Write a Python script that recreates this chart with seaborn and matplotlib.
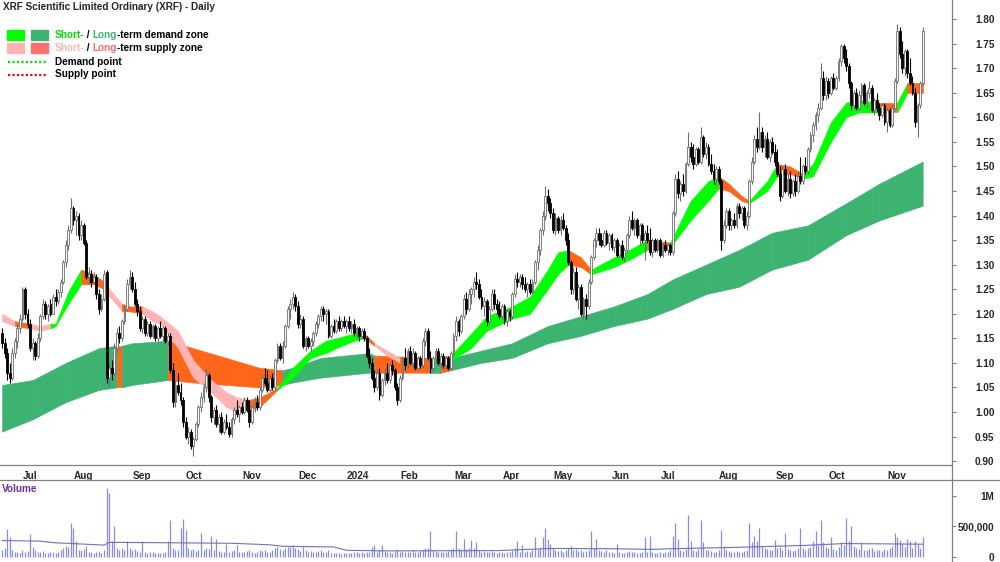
import matplotlib
matplotlib.use("Agg")
import matplotlib.pyplot as plt
import matplotlib.transforms as mtransforms
from matplotlib.lines import Line2D
from matplotlib.patches import Rectangle
import numpy as np
import pandas as pd
import seaborn as sns

# ------------------------------------------------------------------
# Daily candles, cents (open, high, low, close, volume in thousands)
# ------------------------------------------------------------------
jun_2023 = [(116, 117, 113, 114, 120), (114, 115, 111, 112, 150), (112, 113, 106.5, 108, 460),
            (108, 110, 106, 107, 320), (107, 113, 106.5, 112, 110), (112, 115, 111, 114.5, 90),
            (114.5, 118, 113, 117, 80)]
jul_2023 = [(117, 120, 116, 119, 70), (119, 125.5, 118.5, 125, 110), (125, 125.5, 119, 120, 90),
            (120, 121, 117, 118, 100), (118, 119, 112.5, 113, 370), (113, 115, 110.5, 114, 160),
            (114, 114.5, 110.5, 111.5, 120), (111.5, 116, 111, 115, 90), (115, 120, 114.5, 119.5, 80),
            (119.5, 123, 119, 122, 100), (122, 122.5, 119, 120, 70), (120, 122, 118.5, 121.5, 60),
            (122, 123, 119.5, 120, 80), (120, 124, 120, 123.5, 90), (123.5, 125, 121.5, 122.5, 70),
            (122.5, 125, 122, 124.5, 80), (124.5, 127, 123.5, 126.5, 120), (126.5, 131, 126, 130.5, 150),
            (130.5, 135, 129.5, 134, 180), (134, 138, 133, 137, 160)]
aug_2023 = [(137, 143.5, 136.5, 141.5, 560), (141.5, 142, 138, 139, 480), (139, 141, 136, 140, 260),
            (140, 140.5, 135, 136, 120), (136, 139, 135, 138, 110), (138, 138.5, 134, 134.5, 130),
            (134.5, 135, 127, 127.5, 180), (127.5, 129.5, 126, 128, 90), (128, 129, 125.5, 126.5, 80),
            (126.5, 128.5, 126, 127.5, 70), (127.5, 128, 123, 124, 90), (124, 125, 120, 121, 100),
            (121, 124, 120.5, 123, 60), (123, 129, 122.5, 128, 120), (128.5, 129, 106, 107, 1127),
            (107, 110, 105, 109, 1046), (109, 110.5, 106.5, 108, 260), (108, 114, 107.5, 113, 500),
            (113, 117, 112, 116, 150), (116, 117.5, 114, 115, 120), (115, 119, 114.5, 118.5, 140),
            (118.5, 122, 118, 121, 110), (121, 127, 120.5, 126, 270)]
sep_2023 = [(126, 129, 125, 127.5, 150), (127.5, 128.5, 124.5, 125, 110), (125, 126.5, 121.5, 122, 130),
            (122, 123, 119.5, 120.5, 100), (120.5, 121.5, 116.5, 117, 90), (117, 119.5, 116, 119, 270),
            (119, 119.5, 115.5, 116, 80), (116, 118.5, 115.5, 118, 70), (118, 118.5, 115, 115.5, 90),
            (115.5, 118, 115, 117.5, 80), (117.5, 118, 114.5, 115, 70), (115, 117.5, 114.5, 117, 60),
            (117, 118.5, 115, 115.5, 70), (115.5, 117.5, 114.5, 117, 60), (117, 117.5, 114, 114.5, 80),
            (114.5, 116, 113.5, 115.5, 270), (115.5, 116, 108, 108.5, 610), (108.5, 110, 101, 102, 150),
            (102, 106.5, 101, 105.5, 120), (105.5, 108, 103.5, 104, 110), (104, 106, 101.5, 102.5, 480)]
oct_2023 = [(102.5, 103, 97, 98, 630), (98, 99, 94.5, 95, 450), (95, 97, 93.5, 96, 150),
            (96, 96.5, 92.5, 93, 120), (93, 95, 91, 94.5, 130), (94.5, 98, 94, 97.5, 100),
            (97.5, 101.5, 97, 101, 110), (101, 104, 100, 103, 390), (103, 106, 102, 105, 120),
            (105, 109, 104, 107.5, 150), (107.5, 108, 102, 103, 130), (103, 103.5, 98, 99, 350),
            (99, 101, 97.5, 100.5, 110), (100.5, 101.5, 97, 97.5, 300), (97.5, 99.5, 96, 99, 100),
            (99, 100, 95.5, 96, 90), (96, 98.5, 95.5, 98, 80), (98, 99.5, 96.5, 97, 210),
            (97, 98, 95, 95.5, 90), (95.5, 99, 95, 98.5, 100), (98.5, 101, 97.5, 100.5, 110),
            (100.5, 102.5, 99, 99.5, 200)]
nov_2023 = [(99.5, 101.5, 98, 101, 90), (101, 102, 99.5, 100, 80), (100, 103, 99.5, 102.5, 90),
            (102.5, 103, 100, 100.5, 100), (100.5, 102.5, 97, 98, 120), (98, 101.5, 97.5, 101, 90),
            (101, 103, 100, 102, 70), (102, 103.5, 100.5, 101, 80), (101, 105, 100.5, 104.5, 110),
            (104.5, 107.5, 104, 107, 100), (107, 109, 105.5, 106, 120), (106, 108.5, 104, 104.5, 90),
            (104.5, 107.5, 104, 107, 80), (107, 108, 104.5, 105, 110), (105, 111, 104.5, 110.5, 140),
            (110.5, 114, 110, 113.5, 160), (113.5, 114, 110.5, 111, 130), (111, 114.5, 110, 113.5, 120),
            (113.5, 118, 113, 117.5, 140), (117.5, 121.5, 117, 121, 170), (121, 123, 119, 122, 160),
            (122, 124.5, 121, 123.5, 200)]
dec_2023 = [(123.5, 124, 120.5, 121.5, 150), (121.5, 122.5, 117, 118, 130), (118, 120, 117, 119, 100),
            (119, 119.5, 113, 113.5, 160), (113.5, 115.5, 112.5, 115, 110), (115, 115.5, 113, 113.5, 90),
            (113.5, 115, 112.5, 114.5, 100), (114.5, 116.5, 113.5, 116, 80), (116, 118.5, 115.5, 118, 90),
            (118, 120, 117, 119.5, 100), (119.5, 121.5, 118.5, 121, 110), (121, 121.5, 118.5, 120, 90),
            (120, 121, 118, 120.5, 80), (120.5, 121, 115, 115.5, 120), (115.5, 118, 115, 117.5, 70),
            (117.5, 119, 116, 116.5, 60), (116.5, 119, 116, 118.5, 70), (118.5, 119.5, 116.5, 117, 60),
            (117, 119, 116.5, 118.5, 50)]
jan_2024 = [(118.5, 119.5, 117, 117.5, 60), (117.5, 119, 116, 118.5, 70), (118.5, 119.5, 116.5, 117, 60),
            (117, 118.5, 116, 118, 70), (118, 119, 115.5, 116, 80), (116, 117.5, 115, 117, 90),
            (117, 117.5, 114.5, 115.5, 60), (115.5, 117, 115, 116.5, 80), (116.5, 117, 114.5, 115, 70),
            (115, 115.5, 111, 111.5, 90), (111.5, 113, 109, 110, 80), (110, 111, 106.5, 107, 160),
            (107, 108.5, 104, 105, 200), (105, 108.5, 104.5, 108, 90), (108, 109, 102.5, 103.5, 120),
            (103.5, 107, 103, 106.5, 200), (106.5, 109, 105.5, 108, 100), (108, 110, 106, 106.5, 80),
            (106.5, 110, 106, 109.5, 90), (109.5, 110.5, 107.5, 108.5, 70), (108.5, 109, 104.5, 105, 100)]
feb_2024 = [(105, 106, 101.5, 102.5, 110), (102.5, 107.5, 102, 107, 90), (107, 111.5, 106.5, 111, 100),
            (111, 113, 108.5, 109.5, 80), (109.5, 113, 109, 112.5, 90), (112.5, 113.5, 109.5, 110, 80),
            (110, 113, 109, 112, 110), (112, 112.5, 108.5, 109, 90), (109, 111.5, 108.5, 111, 80),
            (111, 111.5, 109, 109.5, 100), (109.5, 115, 109, 114.5, 120), (114.5, 117, 113.5, 116.5, 140),
            (116.5, 117, 110.5, 111, 150), (111, 112.5, 108, 109, 430), (109, 111.5, 108.5, 111, 120),
            (111, 113, 110, 112.5, 100), (112.5, 113, 109.5, 110, 80), (110, 112, 109, 111.5, 90),
            (111.5, 112, 109, 109.5, 80), (109.5, 111.5, 108.5, 111, 90), (111, 111.5, 108.5, 109, 100)]
mar_2024 = [(109, 112.5, 108.5, 112, 110), (112, 116, 111.5, 115.5, 140), (115.5, 119.5, 114.5, 118.5, 420),
            (118.5, 119, 115.5, 116.5, 150), (116.5, 120, 116, 119.5, 120), (119.5, 124, 119, 123, 290),
            (123, 124.5, 120, 121, 130), (121, 125, 120.5, 124, 150), (124, 125.5, 122, 125, 280),
            (125, 127.5, 123.5, 126.5, 150), (126.5, 128.5, 125, 126, 250), (126, 127, 123, 123.5, 120),
            (123.5, 125, 121, 121.5, 90), (121.5, 123.5, 119.5, 122.5, 100), (122.5, 123, 117.5, 118.5, 80),
            (118.5, 121.5, 118, 121, 90), (121, 125, 120.5, 124, 100), (124, 125, 121, 122, 80),
            (122, 123, 120, 121, 70)]
apr_2024 = [(121, 122.5, 119, 119.5, 80), (119.5, 122, 119, 121.5, 90), (121.5, 122, 118, 118.5, 70),
            (118.5, 121, 117.5, 120.5, 80), (120.5, 121, 118.5, 119.5, 90), (119.5, 124.5, 119, 124, 110),
            (124, 128, 123.5, 127, 150), (127, 128.5, 125.5, 126.5, 270), (126.5, 128, 125.5, 127.5, 90),
            (127.5, 128, 125, 126, 200), (126, 127.5, 124.5, 125, 80), (125, 126.5, 123.5, 126, 100),
            (126, 127, 124, 124.5, 90), (124.5, 127, 124, 126.5, 110), (126.5, 131, 126, 130.5, 320),
            (130.5, 134, 129, 133, 130), (133, 137.5, 132, 137, 150), (137, 141, 136, 140, 320),
            (140, 146, 139, 144, 480), (144, 145.5, 141, 142.5, 290)]
may_2024 = [(142.5, 143.5, 139.5, 140.5, 220), (140.5, 141.5, 136.5, 137, 150), (137, 140.5, 136, 139.5, 120),
            (139.5, 140, 136.5, 137, 100), (137, 140, 136, 139, 110), (139, 140.5, 137, 137.5, 90),
            (137.5, 138, 134, 135, 120), (135, 136.5, 130, 130.5, 150), (130.5, 131, 124, 125, 180),
            (125, 129.5, 124, 128.5, 110), (128.5, 129.5, 122.5, 123, 130), (123, 126, 121, 125.5, 100),
            (125.5, 126, 119.5, 120, 120), (120, 123.5, 119, 123, 90), (123, 124, 119, 121.5, 100),
            (121.5, 127, 121, 126.5, 120), (126.5, 132, 126, 131.5, 430), (131.5, 135.5, 131, 135, 150),
            (135, 137.5, 133.5, 136.5, 300), (136.5, 137.5, 134, 135, 120), (135, 136.5, 133.5, 134, 100),
            (134, 137, 133.5, 136.5, 90), (136.5, 137, 134, 134.5, 110)]
jun_2024 = [(134.5, 136.5, 133, 136, 80), (136, 136.5, 133, 133.5, 90), (133.5, 135.5, 132.5, 135, 70),
            (135, 135.5, 131.5, 132, 220), (132, 134.5, 131.5, 134, 80), (134, 135, 131, 131.5, 70),
            (131.5, 133.5, 130.5, 133, 60), (133, 136.5, 132.5, 136, 80), (136, 140, 135.5, 139, 100),
            (139, 141, 137, 137.5, 90), (137.5, 139.5, 136, 139, 80), (139, 139.5, 135.5, 136, 70),
            (136, 138.5, 134, 138, 60), (138, 138.5, 134.5, 135, 80), (135, 137, 131, 136.5, 320),
            (136.5, 138, 134.5, 135, 90), (135, 137.5, 132, 132.5, 340), (132.5, 135.5, 131.5, 135, 80),
            (135, 135.5, 132.5, 133, 70)]
jul_2024 = [(133, 135.5, 132.5, 135, 70), (135, 135.5, 131.5, 132, 80), (132, 134.5, 131.5, 134, 60),
            (134, 135, 132.5, 133, 90), (133, 134.5, 132, 134, 80), (134, 134.5, 132, 132.5, 110),
            (132.5, 141, 132, 140.5, 340), (140.5, 148.5, 140, 147.5, 550), (147.5, 149, 143.5, 144.5, 290),
            (144.5, 147, 143, 146.5, 120), (146.5, 148.5, 144, 145, 100), (145, 151, 144.5, 150.5, 130),
            (150.5, 157, 150, 154, 690), (154, 155, 151, 152, 260), (152, 154.5, 149.5, 150.5, 120),
            (150.5, 154, 150, 153.5, 100), (153.5, 154, 150.5, 151, 130), (151, 158, 150.5, 156, 610),
            (156, 156.5, 152, 152.5, 240), (152.5, 155, 151.5, 154, 110), (154, 154.5, 150, 150.5, 120),
            (150.5, 152.5, 148.5, 149, 100), (149, 150.5, 146.5, 147.5, 90)]
aug_2024 = [(147.5, 150, 146, 149.5, 80), (149.5, 150, 146.5, 147, 110), (147, 147.5, 133, 135, 450),
            (135, 139, 134.5, 138, 180), (138, 141.5, 137.5, 141, 120), (141, 141.5, 137, 138, 100),
            (138, 139.5, 137, 139, 90), (139, 140.5, 137.5, 138, 80), (138, 142.5, 137.5, 142, 100),
            (142, 142.5, 139.5, 140.5, 90), (140.5, 142, 139, 141.5, 80), (141.5, 142, 137.5, 138, 100),
            (138, 141, 137, 140, 120), (140, 147.5, 139.5, 147, 550), (147, 152, 146.5, 151, 250),
            (151, 156.5, 150.5, 155.5, 340), (155.5, 158, 153, 154, 260), (154, 161, 153.5, 157, 470),
            (157, 158, 153, 154, 180), (154, 156.5, 152, 155.5, 150), (155.5, 157, 151.5, 152, 130),
            (152, 155.5, 151, 155, 120)]
sep_2024 = [(155, 156, 152.5, 153, 110), (153, 154.5, 150, 151, 280), (151, 153.5, 148, 148.5, 150),
            (148.5, 150, 143, 144, 160), (144, 150, 143.5, 149.5, 120), (149.5, 150.5, 144.5, 145, 390),
            (145, 148.5, 144, 147.5, 130), (147.5, 149, 143.5, 144.5, 110), (144.5, 147.5, 144, 147, 100),
            (147, 148.5, 144, 145, 120), (145, 149, 144.5, 148, 140), (148, 152, 146.5, 147, 470),
            (147, 150.5, 146.5, 150, 150), (150, 152, 148.5, 149, 120), (149, 154, 148.5, 153.5, 140),
            (153.5, 157, 153, 156.5, 160), (156.5, 159, 155, 158.5, 270), (158.5, 161, 157.5, 160.5, 420),
            (160.5, 163, 159, 162, 200), (162, 171, 161.5, 168, 600), (168, 169.5, 163.5, 164.5, 250)]
oct_2024 = [(164.5, 168.5, 163.5, 167.5, 170), (167.5, 168, 164, 165, 140), (165, 168.5, 164.5, 168, 320),
            (168, 169, 165.5, 166, 130), (166, 168.5, 165.5, 168, 120), (168, 172, 167.5, 171.5, 160),
            (171.5, 175, 170.5, 174.5, 250), (174.5, 175, 171, 172, 200), (172, 174, 169.5, 170.5, 640),
            (170.5, 171, 166, 167, 260), (167, 167.5, 161.5, 162.5, 510), (162.5, 165.5, 162, 165, 180),
            (165, 166, 161.5, 162, 150), (162, 165.5, 161.5, 164.5, 130), (164.5, 167, 163, 166.5, 240),
            (166.5, 167, 162.5, 163, 120), (163, 165.5, 162, 165, 110), (165, 167.5, 164, 166, 130),
            (166, 166.5, 161, 161.5, 150), (161.5, 164, 160.5, 163.5, 100), (163.5, 165, 161, 162, 110),
            (162, 163, 159.5, 160.5, 120), (160.5, 163, 160, 162.5, 100)]
nov_2024 = [(162.5, 163, 158.5, 159, 130), (159, 162, 157, 161.5, 110), (161.5, 162, 158, 158.5, 140),
            (158.5, 162.5, 158, 162, 180), (162, 168, 161.5, 167.5, 390), (167.5, 179, 167, 177.5, 320),
            (177.5, 178.5, 172, 173, 280), (173, 175.5, 169, 170, 210), (170, 174, 168.5, 173.5, 160),
            (173.5, 174, 168, 169, 290), (169, 172, 166.5, 167, 270), (167, 168.5, 164.5, 165, 150),
            (165, 166, 158, 159, 260), (159, 163, 156, 162.5, 220), (162.5, 167.5, 162, 167, 140),
            (167, 178.5, 166.5, 177.5, 320)]

months = [jun_2023, jul_2023, aug_2023, sep_2023, oct_2023, nov_2023, dec_2023, jan_2024, feb_2024,
          mar_2024, apr_2024, may_2024, jun_2024, jul_2024, aug_2024, sep_2024, oct_2024, nov_2024]
month_labels = ["Jul", "Aug", "Sep", "Oct", "Nov", "Dec", "2024", "Feb", "Mar", "Apr", "May",
                "Jun", "Jul", "Aug", "Sep", "Oct", "Nov"]

# short-term zone: bar index, upper / lower edge (cents), zone type
st_idx = [0, 5, 11, 15, 19, 21, 26, 31, 36, 40, 43, 47, 50, 55, 59, 62, 69, 75, 82, 88, 92, 97, 101,
          105, 108, 114, 121, 127, 131, 138, 142, 146, 151, 156, 168, 170, 176, 184, 190, 200, 207,
          214, 218, 222, 227, 231, 240, 246, 253, 262, 270, 277, 281, 285, 290, 293, 300, 304, 309,
          314, 318, 325, 331, 336, 344, 351, 355, 361]
st_top = [120, 118.5, 118, 117.5, 118, 118, 124.5, 129, 128, 126.5, 124.5, 122, 121.5, 121.5, 120.5,
          119.5, 116.5, 110.5, 106.5, 104, 103, 102.5, 103, 104, 105, 109, 112.5, 114.5, 115, 116,
          116, 114, 112.5, 111, 110.5, 111, 111.5, 116, 119.5, 121.5, 123.5, 129, 132.5, 133, 131.5,
          129, 131.5, 133, 135, 134.5, 143, 147, 148, 146.5, 144, 143, 147, 150.5, 150, 148.5, 150.5,
          159, 163, 163.5, 163, 163, 167, 167]
st_bot = [118.5, 117.5, 117, 116.5, 117, 117.5, 122, 126, 126, 125, 123, 120.5, 120.5, 120, 118.5,
          118, 113, 107, 104, 101, 100, 100.5, 101, 103, 104.5, 107, 111, 112, 113, 114.5, 115,
          113.5, 111.5, 110, 110, 110, 110.5, 113, 116.5, 119, 120, 125, 128, 130, 129.5, 128,
          129.5, 131, 133, 133.5, 139, 143, 145.5, 145, 143, 142.5, 145, 148, 148.5, 147.5, 148,
          155, 160, 161, 161, 161, 165, 165]
st_zone = ["P", "O", "P", "P", "G", "G", "G", "O", "O", "P", "P", "O", "O", "P", "P", "P", "P", "P",
           "P", "P", "P", "O", "O", "O", "G", "G", "G", "G", "G", "G", "O", "P", "P", "O", "G", "O",
           "G", "G", "G", "G", "G", "G", "G", "O", "O", "G", "G", "G", "O", "G", "G", "G", "O", "O",
           "O", "G", "G", "O", "O", "G", "G", "G", "G", "G", "O", "G", "O", "O"]

# long-term zone
lt_idx = [0, 12, 25, 38, 45, 47, 51, 65, 75, 88, 101, 110, 114, 125, 144, 146, 168, 170, 172, 176,
          188, 200, 214, 227, 240, 253, 263, 276, 289, 302, 316, 331, 344, 361]
lt_top = [105.5, 106.5, 110, 113, 113.5, 113.5, 114, 114.5, 113, 111, 109, 108.5, 109, 111, 112,
          111.5, 111, 111, 111, 111, 112.5, 114, 117.5, 119.5, 121.5, 124, 127, 130, 133, 136.5,
          138, 142.5, 146.5, 151]
lt_bot = [96, 98.5, 102, 104.5, 105, 105, 105.5, 106.5, 106, 105.5, 105, 105.5, 106, 107, 108, 108,
          108, 108, 108, 108.5, 110, 111, 114, 115.5, 117.5, 119, 121, 124, 125.5, 129, 131, 136,
          139, 142]
lt_zone = ["G", "G", "G", "G", "O", "G", "G", "O", "O", "O", "O", "G", "G", "G", "G", "O", "G", "G",
           "O", "G", "G", "G", "G", "G", "G", "G", "G", "G", "G", "G", "G", "G", "G", "G"]

# volume average line (thousands)
vol_ma_idx = [0, 15, 20, 40, 42, 60, 90, 105, 110, 130, 135, 150, 195, 215, 240, 255, 262, 290,
              315, 330, 361]
vol_ma_k = [270, 260, 235, 195, 240, 235, 225, 200, 175, 165, 110, 100, 105, 140, 135, 125, 135,
            160, 190, 220, 210]

price_ticks = [0.90, 0.95, 1.00, 1.05, 1.10, 1.15, 1.20, 1.25, 1.30, 1.35, 1.40, 1.45, 1.50,
               1.55, 1.60, 1.65, 1.70, 1.75, 1.80]
volume_ticks = [0, 500, 1000]
volume_tick_labels = ["0", "500,000", "1M"]

# ------------------------------------------------------------------
candles = pd.DataFrame([row for m in months for row in m],
                       columns=["open", "high", "low", "close", "vol_k"])
for col in ["open", "high", "low", "close"]:
    candles[col] = candles[col] / 100
x = np.arange(len(candles))
month_starts = np.cumsum([len(m) for m in months])[:-1]

ZONE_COLOURS_ST = {"G": "#00FF00", "O": "#FF6619", "P": "#FFB3B3"}
ZONE_COLOURS_LT = {"G": "#3CB371", "O": "#FF6619"}
AXIS_GREY = "#808080"
FS = 7.2

sns.set_style("white")
plt.rcParams["font.family"] = ["Liberation Sans", "DejaVu Sans"]
plt.rcParams["font.weight"] = "bold"

W, H = 1000, 562
fig = plt.figure(figsize=(W / 100, H / 100), dpi=100)
ax = fig.add_axes([0, 97 / H, 952 / W, 465 / H])
axv = fig.add_axes([0, 0, 952 / W, 82 / H])


def draw_zone(axis, idx, top, bot, zone, colours, z):
    for i in range(len(idx) - 1):
        c = colours[zone[i]]
        axis.fill_between([idx[i], idx[i + 1]],
                          [top[i] / 100, top[i + 1] / 100],
                          [bot[i] / 100, bot[i + 1] / 100],
                          color=c, ec=c, lw=0.4, zorder=z)


draw_zone(ax, lt_idx, lt_top, lt_bot, lt_zone, ZONE_COLOURS_LT, 1)
draw_zone(ax, st_idx, st_top, st_bot, st_zone, ZONE_COLOURS_ST, 2)

# candles
up = (candles["close"] >= candles["open"]).values
body = (candles["close"] - candles["open"]).values
body = np.where(np.abs(body) < 0.002, 0.002, body)
ax.vlines(x[up], candles["low"][up], candles["high"][up], color="#6E6E6E", lw=0.8, zorder=3)
ax.vlines(x[~up], candles["low"][~up], candles["high"][~up], color="black", lw=0.8, zorder=3)
ax.bar(x[up], body[up], bottom=candles["open"][up], width=0.72, color="#F4F4F4",
       edgecolor="#707070", linewidth=0.6, zorder=4)
ax.bar(x[~up], body[~up], bottom=candles["open"][~up], width=0.72, color="black",
       edgecolor="black", linewidth=0.6, zorder=4)

ax.set_xlim(-0.8, 372.5)
ax.set_ylim(0.892, 1.839)
ax.yaxis.tick_right()
ax.set_yticks(price_ticks, [f"{v:.2f}" for v in price_ticks])
ax.set_xticks(month_starts, month_labels)
ax.tick_params(axis="y", direction="out", length=3, width=0.8, color=AXIS_GREY, pad=27.6,
               labelsize=FS)
ax.tick_params(axis="x", direction="out", length=3, width=0.8, color=AXIS_GREY, pad=1.2,
               labelsize=FS)
for lbl in ax.get_yticklabels():
    lbl.set_ha("right")
    lbl.set_fontweight("bold")
shift = mtransforms.ScaledTranslation(3 / 100, 0, fig.dpi_scale_trans)
for lbl in ax.get_xticklabels():
    lbl.set_ha("left")
    lbl.set_fontweight("bold")
    lbl.set_transform(lbl.get_transform() + shift)
for side in ["left", "top"]:
    ax.spines[side].set_visible(False)
for side in ["right", "bottom"]:
    ax.spines[side].set_color(AXIS_GREY)
    ax.spines[side].set_linewidth(0.9)
ax.set_xlabel("")
ax.set_ylabel("")

# volume panel
axv.vlines(x, 0, candles["vol_k"], color="#8C8CDC", lw=0.9, zorder=2)
sns.lineplot(x=vol_ma_idx, y=vol_ma_k, ax=axv, color="#6E6EC8", lw=0.8, zorder=3)
axv.set_xlim(-0.8, 372.5)
axv.set_ylim(-82, 1262)
axv.yaxis.tick_right()
axv.set_yticks(volume_ticks, volume_tick_labels)
axv.set_xticks([])
axv.tick_params(axis="y", direction="out", length=3, width=0.8, color=AXIS_GREY, pad=27.6,
                labelsize=FS)
for lbl in axv.get_yticklabels():
    lbl.set_ha("right")
    lbl.set_fontweight("bold")
for side in ["left", "bottom"]:
    axv.spines[side].set_visible(False)
for side in ["right", "top"]:
    axv.spines[side].set_color(AXIS_GREY)
    axv.spines[side].set_linewidth(0.9)
axv.set_xlabel("")
axv.set_ylabel("")
fig.text(2 / W, 1 - 489 / H, "Volume", color="#6B2FA0", fontsize=FS, fontweight="bold",
         va="center", ha="left")

# gap lines between panels
fig.add_artist(Line2D([952 / W, 952 / W], [82 / H, 97 / H], color=AXIS_GREY, lw=0.9))
fig.add_artist(Line2D([952 / W, 1.0], [82 / H, 82 / H], color=AXIS_GREY, lw=0.9))

# title and legend
fig.text(3 / W, 1 - 7 / H, "XRF Scientific Limited Ordinary (XRF) - Daily", fontsize=FS,
         fontweight="bold", va="center", ha="left")


def rainbow(y_px, parts):
    t = fig.text(55 / W, 1 - y_px / H, parts[0][0], color=parts[0][1], fontsize=FS,
                 fontweight="bold", va="center", ha="left")
    for txt, col in parts[1:]:
        t = ax.annotate(txt, xy=(1, 0), xycoords=t, va="bottom", ha="left", color=col,
                        fontsize=FS, fontweight="bold", annotation_clip=False)


rainbow(35, [("Short-", "#00E000"), (" / ", "black"), ("Long", "#3CB371"),
             ("-term demand zone", "black")])
rainbow(48, [("Short-", "#FFB3B3"), (" / ", "black"), ("Long", "#FF6A6A"),
             ("-term supply zone", "black")])
rainbow(62, [("Demand point", "black")])
rainbow(74, [("Supply point", "black")])

for (x0, y0, col) in [(7, 30, "#00FF00"), (31, 30, "#3CB371"), (7, 43, "#FFB3B3"),
                      (31, 43, "#FF6F6F")]:
    fig.add_artist(Rectangle((x0 / W, 1 - (y0 + 10) / H), 17 / W, 10 / H, color=col,
                             transform=fig.transFigure))
fig.add_artist(Line2D([8 / W, 48 / W], [1 - 62 / H, 1 - 62 / H], color="#00DD00", lw=1.6,
                      ls=(0, (1, 1))))
fig.add_artist(Line2D([8 / W, 48 / W], [1 - 75 / H, 1 - 75 / H], color="#FF0000", lw=1.6,
                      ls=(0, (1, 1))))

fig.savefig("out.png", dpi=100)
